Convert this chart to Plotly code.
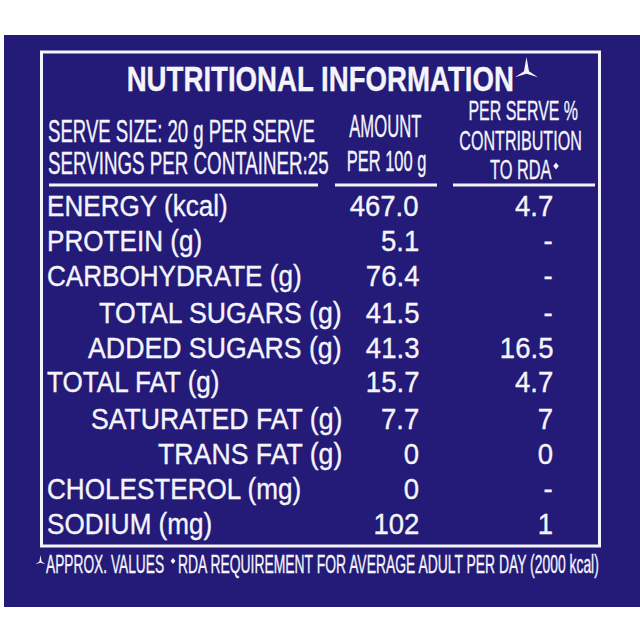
import json
import plotly.graph_objects as go

nutrients = ["ENERGY (kcal)", "PROTEIN (g)", "CARBOHYDRATE (g)", "TOTAL SUGARS (g)", "ADDED SUGARS (g)",
             "TOTAL FAT (g)", "SATURATED FAT (g)", "TRANS FAT (g)", "CHOLESTEROL (mg)", "SODIUM (mg)"]
amount_per_100g = ["467.0", "5.1", "76.4", "41.5", "41.3", "15.7", "7.7", "0", "0", "102"]
rda_contribution = ["4.7", "-", "-", "-", "16.5", "4.7", "7", "0", "-", "1"]

row_y = [206, 241, 276, 313, 348, 382, 419, 454, 489, 524]
indented = [False, False, False, True, True, False, True, True, False, False]

FONT = "Liberation Sans"
WHITE = "#f4f4fa"
NAVY = "#241a78"

fig = go.Figure()
ann = []
condense = []


def text(x, y, s, size, anchor="left", bold=False, sx=0.9):
    ann.append(dict(x=x, y=y, text=f"<b>{s}</b>" if bold else s, showarrow=False, xanchor=anchor, yanchor="middle",
                    xref="x", yref="y", align=anchor, borderpad=0, borderwidth=0,
                    font=dict(family=FONT, size=size, color=WHITE)))
    condense.append([sx, anchor])


text(320, 78, "NUTRITIONAL INFORMATION", 35, "center", True, 0.79)
text(48, 131, "SERVE SIZE: 20 g PER SERVE", 31, sx=0.60)
text(48, 163, "SERVINGS PER CONTAINER:25", 31, sx=0.605)
text(385.5, 126, "AMOUNT", 32, "center", sx=0.52)
text(386, 160, "PER 100 g", 30, "center", sx=0.55)
text(523, 110, "PER SERVE %", 28, "center", sx=0.57)
text(520.5, 140, "CONTRIBUTION", 28, "center", sx=0.575)
text(520.5, 169, "TO RDA", 28, "center", sx=0.585)
text(46, 564, "APPROX. VALUES", 25, sx=0.55)
text(178, 564, "RDA REQUIREMENT FOR AVERAGE ADULT PER DAY (2000 kcal)", 25, sx=0.556)

for name, amt, rda, y, ind in zip(nutrients, amount_per_100g, rda_contribution, row_y, indented):
    if ind:
        text(342, y, name, 29, "right", sx=0.92)
    else:
        text(47, y, name, 29)
    text(419, y, amt, 29, "right", sx=0.95)
    text(553, y, rda, 29, "right", sx=0.95)


def star(cx, cy, rx, ry):
    return (f"M {cx} {cy-ry} L {cx+rx*0.22} {cy+ry*0.1} L {cx+rx} {cy+ry*0.55} L {cx} {cy+ry*0.28} "
            f"L {cx-rx} {cy+ry*0.55} L {cx-rx*0.22} {cy+ry*0.1} Z")


def sparkle(cx, cy, r):
    return f"M {cx} {cy-r} L {cx+r*0.8} {cy} L {cx} {cy+r} L {cx-r*0.8} {cy} Z"


shapes = [
    dict(type="rect", x0=4, x1=640, y0=35, y1=607, fillcolor=NAVY, line=dict(width=0), layer="below"),
    dict(type="rect", x0=41.5, x1=599.5, y0=52, y1=546, line=dict(color=WHITE, width=3)),
    dict(type="line", x0=49, x1=318, y0=185, y1=185, line=dict(color=WHITE, width=3)),
    dict(type="line", x0=335, x1=437, y0=185, y1=185, line=dict(color=WHITE, width=3)),
    dict(type="line", x0=453, x1=595, y0=185, y1=185, line=dict(color=WHITE, width=3)),
    dict(type="path", path=star(526.5, 70, 11.5, 13), fillcolor=WHITE, line=dict(width=0)),
    dict(type="path", path=star(40.5, 561, 5, 6), fillcolor=WHITE, line=dict(width=0)),
    dict(type="path", path=sparkle(556, 166, 3.5), fillcolor=WHITE, line=dict(width=0)),
    dict(type="path", path=sparkle(173, 561, 3), fillcolor=WHITE, line=dict(width=0)),
]

fig.update_layout(
    width=640, height=623, margin=dict(l=0, r=0, t=0, b=0), paper_bgcolor="white", plot_bgcolor="white",
    xaxis=dict(range=[0, 640], visible=False, fixedrange=True),
    yaxis=dict(range=[623, 0], visible=False, fixedrange=True),
    annotations=ann, shapes=shapes, showlegend=False,
)

post = """
document.body.style.margin='0';document.documentElement.style.overflow='hidden';
var CONDENSE=%s;
(function run(){
  var gs=document.querySelectorAll('g.annotation');
  if(gs.length<CONDENSE.length){setTimeout(run,10);return;}
  gs.forEach(function(g){
    var c=CONDENSE[+g.getAttribute('data-index')];
    var t=g.querySelector('text.annotation-text');
    var b=t.getBBox();
    var cx=c[1]=='left'?b.x:(c[1]=='right'?b.x+b.width:b.x+b.width/2);
    var tr=t.getAttribute('transform')||'';
    t.setAttribute('transform',tr+' translate('+cx+' 0) scale('+c[0]+' 1) translate('+(-cx)+' 0)');
    t.style.stroke='%s';t.style.strokeWidth='0.35px';
  });
})();
""" % (json.dumps(condense), WHITE)
fig.write_html("out.html", config=dict(displayModeBar=False), post_script=post)
